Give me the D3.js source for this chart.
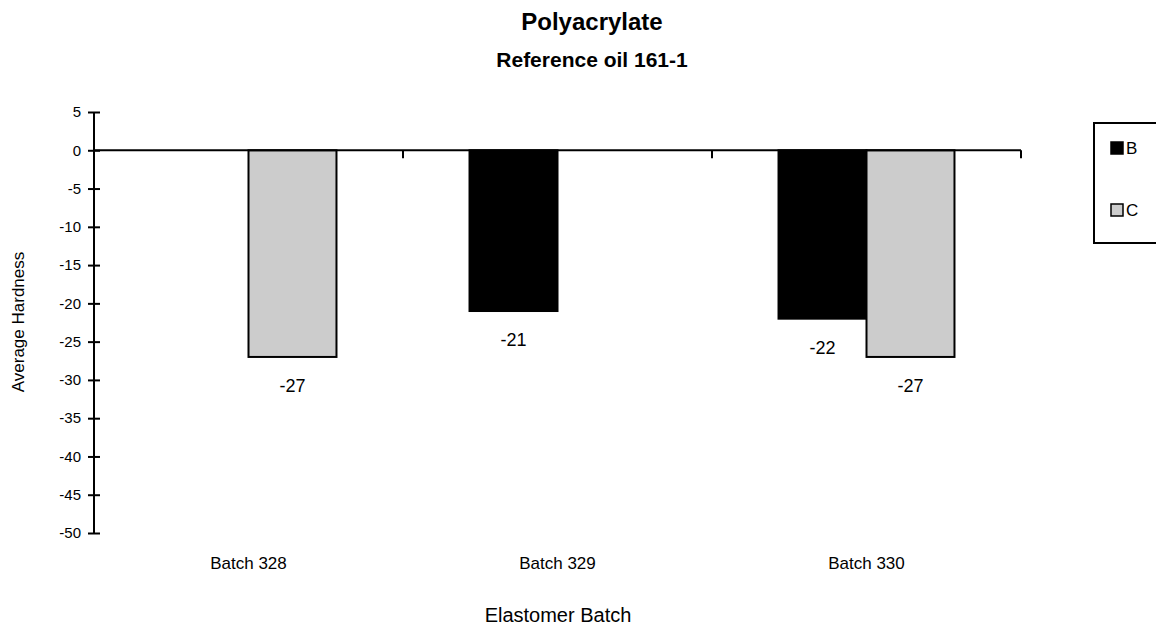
<!DOCTYPE html>
<html>
<head>
<meta charset="utf-8">
<script src="https://cdn.jsdelivr.net/npm/d3@7"></script>
<style>
  body { margin: 0; background: #fff; }
  svg { font-family: "Liberation Sans", Arial, sans-serif; }
  .axis path, .axis line { stroke: #000; stroke-width: 2px; }
  .axis text { font-size: 15px; fill: #000; }
</style>
</head>
<body>
<script>
// chart data
const categories = ["Batch 328", "Batch 329", "Batch 330"];
const seriesNames = ["B", "C"];
const valuesB = [null, -21, -22];
const valuesC = [-27, null, -27];
const yTicks = [5, 0, -5, -10, -15, -20, -25, -30, -35, -40, -45, -50];
const colors = { B: "#000000", C: "#cccccc" };

const width = 1156, height = 630;
const plot = { left: 94, right: 1021, top: 112, bottom: 533 };

const svg = d3.select("body").append("svg")
    .attr("width", width)
    .attr("height", height);

// scales
const y = d3.scaleLinear().domain([-50, 5]).range([plot.bottom, plot.top]);
const x0 = d3.scaleBand().domain(categories).range([plot.left, plot.right]);
const x1 = d3.scaleBand().domain(seriesNames).range([0, x0.bandwidth()])
    .paddingInner(0).paddingOuter(0.756);

// titles
svg.append("text").attr("x", 592).attr("y", 30)
    .attr("text-anchor", "middle").style("font-size", "24px").style("font-weight", "bold")
    .text("Polyacrylate");
svg.append("text").attr("x", 592).attr("y", 67)
    .attr("text-anchor", "middle").style("font-size", "21px").style("font-weight", "bold")
    .text("Reference oil 161-1");

// bars
const rows = categories.map((c, i) => ({ cat: c, B: valuesB[i], C: valuesC[i] }));
const groups = svg.selectAll(".grp").data(rows).enter().append("g")
    .attr("class", "grp")
    .attr("transform", d => "translate(" + x0(d.cat) + ",0)");

const bars = groups.selectAll("g.bar")
    .data(d => seriesNames.filter(s => d[s] != null).map(s => ({ key: s, value: d[s] })))
    .enter().append("g").attr("class", "bar");

bars.append("rect")
    .attr("x", d => x1(d.key))
    .attr("y", d => Math.min(y(0), y(d.value)))
    .attr("width", x1.bandwidth())
    .attr("height", d => Math.abs(y(d.value) - y(0)))
    .attr("fill", d => colors[d.key])
    .attr("stroke", "#000")
    .attr("stroke-width", 2);

bars.append("text")
    .attr("x", d => x1(d.key) + x1.bandwidth() / 2)
    .attr("y", d => y(d.value) + 35)
    .attr("text-anchor", "middle")
    .style("font-size", "18px")
    .text(d => String(d.value));

// y axis with crossing ticks
const yAxis = svg.append("g").attr("class", "axis")
    .attr("transform", "translate(" + plot.left + ",0)")
    .call(d3.axisLeft(y).tickValues(yTicks).tickSize(6).tickPadding(7)
      .tickFormat(d => String(d)));
yAxis.select(".domain").attr("d", "M0," + y(5) + "V" + y(-50));
yAxis.selectAll(".tick line").attr("x1", 6).attr("x2", -6);

// x axis at zero line
const xAxis = svg.append("g").attr("class", "axis");
xAxis.append("line")
    .attr("x1", plot.left).attr("x2", plot.right)
    .attr("y1", y(0)).attr("y2", y(0));
xAxis.selectAll(".xtick").data(categories).enter().append("line")
    .attr("class", "xtick")
    .attr("x1", d => x0(d) + x0.bandwidth()).attr("x2", d => x0(d) + x0.bandwidth())
    .attr("y1", y(0)).attr("y2", y(0) + 8);

// category labels
svg.selectAll(".cat").data(categories).enter().append("text")
    .attr("class", "cat")
    .attr("x", d => x0(d) + x0.bandwidth() / 2)
    .attr("y", 569)
    .attr("text-anchor", "middle")
    .style("font-size", "17px")
    .text(d => d);

// axis titles
svg.append("text").attr("x", 558).attr("y", 622)
    .attr("text-anchor", "middle").style("font-size", "20px")
    .text("Elastomer Batch");
svg.append("text")
    .attr("transform", "translate(24,322) rotate(-90)")
    .attr("text-anchor", "middle").style("font-size", "17px")
    .text("Average Hardness");

// legend
const legend = svg.append("g");
legend.append("rect")
    .attr("x", 1094).attr("y", 123).attr("width", 80).attr("height", 120)
    .attr("fill", "#fff").attr("stroke", "#000").attr("stroke-width", 2);
const items = legend.selectAll(".item").data(seriesNames).enter().append("g")
    .attr("class", "item")
    .attr("transform", (d, i) => "translate(1111," + (148 + i * 62) + ")");
items.append("rect")
    .attr("x", 0).attr("y", -6).attr("width", 12).attr("height", 12)
    .attr("fill", d => colors[d]).attr("stroke", "#000").attr("stroke-width", 1.5);
items.append("text")
    .attr("x", 15).attr("y", 6)
    .style("font-size", "17px")
    .text(d => d);
</script>
</body>
</html>
